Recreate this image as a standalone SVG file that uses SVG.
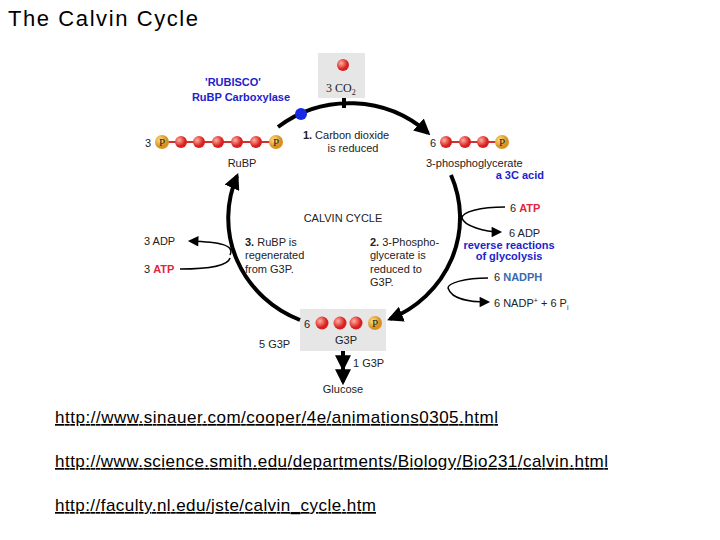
<svg xmlns="http://www.w3.org/2000/svg" width="720" height="540" viewBox="0 0 720 540">
<style>
text{font-family:"Liberation Sans",Arial,sans-serif;fill:#222}
.s{font-size:11px}
.b{fill:#22c}
.r{fill:#e0283c;font-weight:bold}
.c{stroke:#000;fill:none;stroke-width:4}
.t{stroke:#000;fill:none;stroke-width:1.5}
.u{font-size:17px;fill:#000;text-decoration:underline}
</style>
<defs>
<marker id="a" viewBox="0 0 10 10" refX="8" refY="5" markerWidth="4" markerHeight="4" orient="auto"><path d="M0,0L10,5L0,10z" fill="#000"/></marker>
<marker id="a2" viewBox="0 0 10 10" refX="8" refY="5" markerWidth="8" markerHeight="7" orient="auto"><path d="M0,0L10,5L0,10z" fill="#000"/></marker>
<radialGradient id="rb" cx="0.35" cy="0.35"><stop offset="0" stop-color="#ffb0a0"/><stop offset="1" stop-color="#d82020"/></radialGradient>
<radialGradient id="pb" cx="0.35" cy="0.35"><stop offset="0" stop-color="#ffe080"/><stop offset="1" stop-color="#d89020"/></radialGradient>
</defs>
<text x="8" y="26" textLength="190" style="font-size:22px;fill:#000">The Calvin Cycle</text>
<rect x="318" y="53" width="47" height="45" fill="#e6e6e6"/>
<rect x="300" y="309" width="86" height="42" fill="#e6e6e6"/>
<g id="connectors">
<path class="c" d="M278,127 A115,110 0 0 1 428,133" marker-end="url(#a)"/>
<path class="c" d="M344,98 L344,108"/>
<path class="c" d="M451,175 A115,110 0 0 1 390,319" marker-end="url(#a)"/>
<path class="c" d="M300,320 A115,110 0 0 1 237,176" marker-end="url(#a)"/>
<path class="t" d="M505,207 C480,207 462,212 462,218 C464,226 485,232 500,232" marker-end="url(#a2)"/>
<path class="t" d="M488,278 C465,278 448,283 448,288 C452,300 470,302 488,302" marker-end="url(#a2)"/>
<path class="t" d="M230,255 C235,245 220,242 190,241" marker-end="url(#a2)"/>
<path class="t" d="M180,269 C210,269 228,266 230,258"/>
<path class="c" d="M343,351 L343,368" marker-end="url(#a)"/>
<path class="c" d="M343,368 L343,382" marker-end="url(#a)"/>
</g>
<g id="rubisco"><circle cx="301" cy="114" r="6" fill="#1428e6"/>
<text x="233" y="86" class="s b" font-weight="bold" text-anchor="middle">'RUBISCO'</text>
<text x="241" y="101" class="s b" font-weight="bold" text-anchor="middle">RuBP Carboxylase</text></g>
<g id="co2"><circle cx="343" cy="65" r="6" fill="url(#rb)"/><text x="326" y="92" style="font-size:12px;font-family:'Liberation Serif',serif">3 CO<tspan font-size="8" dy="3">2</tspan></text></g>
<g id="rubp">
<text x="145" y="147" class="s">3</text>
<line x1="162" y1="142" x2="276" y2="142" stroke="#c33" stroke-width="2"/>
<circle cx="162" cy="142" r="7" fill="url(#pb)"/><text x="162" y="146" class="s" font-size="10" text-anchor="middle" style="font-family:'Liberation Serif',serif">P</text>
<circle cx="181" cy="142" r="6" fill="url(#rb)"/><circle cx="199" cy="142" r="6" fill="url(#rb)"/><circle cx="218" cy="142" r="6" fill="url(#rb)"/><circle cx="237" cy="142" r="6" fill="url(#rb)"/><circle cx="256" cy="142" r="6" fill="url(#rb)"/>
<circle cx="276" cy="142" r="7" fill="url(#pb)"/><text x="276" y="146" class="s" font-size="10" text-anchor="middle" style="font-family:'Liberation Serif',serif">P</text>
<text x="242" y="167" class="s" text-anchor="middle">RuBP</text></g>
<g id="step1"><text x="346" y="139" class="s" text-anchor="middle"><tspan font-weight="bold">1.</tspan> Carbon dioxide</text><text x="353" y="152" class="s" text-anchor="middle">is reduced</text></g>
<g id="pga">
<text x="430" y="147" class="s">6</text>
<line x1="446" y1="142" x2="502" y2="142" stroke="#c33" stroke-width="2"/>
<circle cx="446" cy="142" r="6" fill="url(#rb)"/><circle cx="465" cy="142" r="6" fill="url(#rb)"/><circle cx="483" cy="142" r="6" fill="url(#rb)"/>
<circle cx="502" cy="142" r="7" fill="url(#pb)"/><text x="502" y="146" class="s" font-size="10" text-anchor="middle" style="font-family:'Liberation Serif',serif">P</text>
<text x="426" y="167" class="s">3-phosphoglycerate</text>
<text x="544" y="179" class="s b" font-size="9" font-weight="bold" text-anchor="end">a 3C acid</text></g>
<g id="calvin"><text x="343" y="222" class="s" text-anchor="middle">CALVIN CYCLE</text></g>
<g id="step2"><text x="370" y="246" class="s"><tspan font-weight="bold">2.</tspan> 3-Phospho-</text><text x="370" y="259" class="s">glycerate is</text><text x="370" y="273" class="s">reduced to</text><text x="370" y="286" class="s">G3P.</text></g>
<g id="step3"><text x="245" y="246" class="s"><tspan font-weight="bold">3.</tspan> RuBP is</text><text x="245" y="259" class="s">regenerated</text><text x="245" y="273" class="s">from G3P.</text></g>
<g id="atp6"><text x="510" y="212" class="s">6 <tspan class="r">ATP</tspan></text></g>
<g id="adp6"><text x="509" y="237" class="s">6 ADP</text>
<text x="509" y="249" class="s b" font-size="8" font-weight="bold" text-anchor="middle">reverse reactions</text>
<text x="509" y="260" class="s b" font-size="8" font-weight="bold" text-anchor="middle">of glycolysis</text></g>
<g id="nadph"><text x="494" y="281" class="s">6 <tspan fill="#3a6ab0" font-weight="bold">NADPH</tspan></text></g>
<g id="nadp"><text x="494" y="307" class="s">6 NADP<tspan font-size="7" dy="-4">+</tspan><tspan dy="4">  +  6 P</tspan><tspan font-size="7" dy="3">i</tspan></text></g>
<g id="adp3"><text x="144" y="245" class="s">3 ADP</text></g>
<g id="atp3"><text x="144" y="273" class="s">3 <tspan class="r">ATP</tspan></text></g>
<g id="g3p">
<text x="304" y="328" class="s">6</text>
<circle cx="322" cy="323" r="6.5" fill="url(#rb)"/><circle cx="340" cy="323" r="6.5" fill="url(#rb)"/><circle cx="356" cy="323" r="6.5" fill="url(#rb)"/>
<circle cx="375" cy="323" r="7" fill="url(#pb)"/><text x="375" y="327" class="s" font-size="10" text-anchor="middle" style="font-family:'Liberation Serif',serif">P</text>
<text x="346" y="344" class="s" text-anchor="middle">G3P</text></g>
<g id="g3p5"><text x="259" y="348" class="s">5 G3P</text></g>
<g id="g3p1"><text x="353" y="367" class="s">1 G3P</text></g>
<g id="glucose"><text x="343" y="393" class="s" text-anchor="middle">Glucose</text></g>
<text x="55" y="423" class="u" textLength="443">http://www.sinauer.com/cooper/4e/animations0305.html</text>
<text x="55" y="467" class="u" textLength="553">http://www.science.smith.edu/departments/Biology/Bio231/calvin.html</text>
<text x="55" y="511" class="u" textLength="321">http://faculty.nl.edu/jste/calvin_cycle.htm</text>
</svg>
